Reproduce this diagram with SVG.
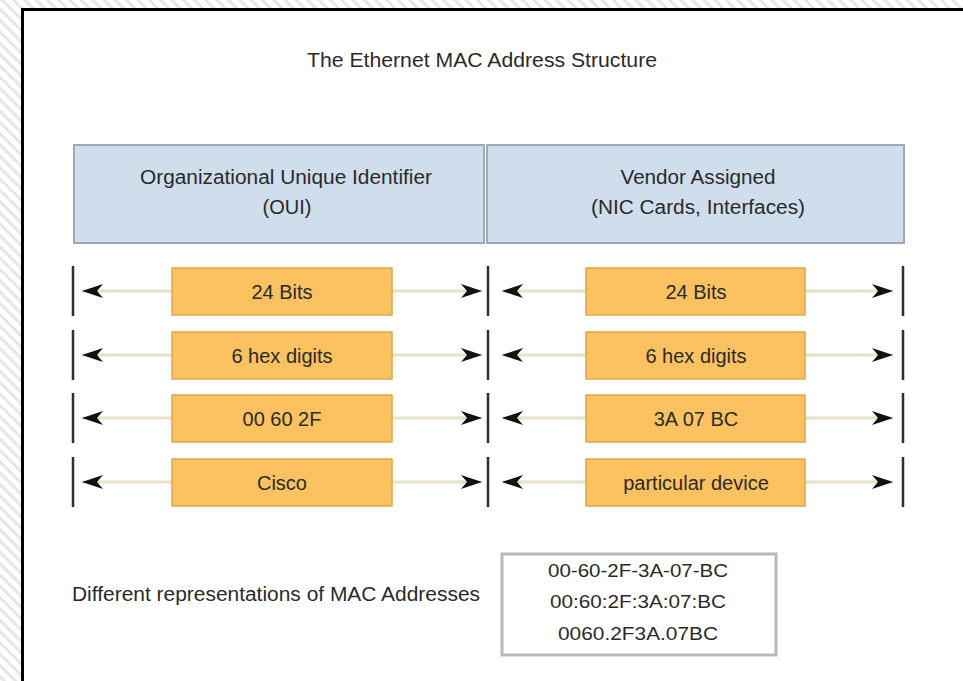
<svg xmlns="http://www.w3.org/2000/svg" width="963" height="681" viewBox="0 0 963 681">
  <style>
    text { font-family: "Liberation Sans", Arial, sans-serif; fill: #2a2a2a; }
    .t20 { font-size: 20px; }
    .t19 { font-size: 19px; }
    .mid { text-anchor: middle; }
    .head { fill: #d0ddec; stroke: #9ea9b6; stroke-width: 2; }
    .field { fill: #fbc25f; stroke: #dfa748; stroke-width: 1.5; }
    .bar { stroke: #2e2e2e; stroke-width: 2.5; }
    .span { stroke: #e7e0c3; stroke-width: 3; fill: none; marker-end: url(#tip); }
  </style>
  <defs>
    <pattern id="hatch" width="8" height="8" patternUnits="userSpaceOnUse" patternTransform="rotate(-45)">
      <rect x="0" y="0" width="3" height="8" fill="#e6e6e6"/>
    </pattern>
    <marker id="tip" viewBox="0 -8 22 16" refX="21" refY="0" markerWidth="22" markerHeight="16" markerUnits="userSpaceOnUse" orient="auto">
      <path d="M0,-7 L21,0 L0,7 L6,0 Z" fill="#111"/>
    </marker>
  </defs>

  <!-- page background and framed panel -->
  <rect x="0" y="0" width="963" height="681" fill="#ffffff"/>
  <rect x="0" y="0" width="963" height="681" fill="url(#hatch)"/>
  <rect x="22.5" y="9.5" width="960" height="690" fill="#ffffff" stroke="#000000" stroke-width="3"/>

  <g id="title">
    <text class="t20 mid" x="482" y="67" textLength="350" lengthAdjust="spacingAndGlyphs">The Ethernet MAC Address Structure</text>
  </g>

  <!-- header fields -->
  <g id="oui-header">
    <rect class="head" x="74" y="145" width="410" height="98"/>
    <text class="t20 mid" x="286" y="184" textLength="292" lengthAdjust="spacingAndGlyphs">Organizational Unique Identifier</text>
    <text class="t20 mid" x="287" y="214">(OUI)</text>
  </g>
  <g id="vendor-header">
    <rect class="head" x="487" y="145" width="417" height="98"/>
    <text class="t20 mid" x="698" y="184" textLength="155" lengthAdjust="spacingAndGlyphs">Vendor Assigned</text>
    <text class="t20 mid" x="698" y="214" textLength="214" lengthAdjust="spacingAndGlyphs">(NIC Cards, Interfaces)</text>
  </g>

  <!-- boundary bars -->
  <g id="bars">
    <line class="bar" x1="73" y1="266" x2="73" y2="316"/>
    <line class="bar" x1="488" y1="266" x2="488" y2="316"/>
    <line class="bar" x1="903" y1="266" x2="903" y2="316"/>
    <line class="bar" x1="73" y1="330" x2="73" y2="380"/>
    <line class="bar" x1="488" y1="330" x2="488" y2="380"/>
    <line class="bar" x1="903" y1="330" x2="903" y2="380"/>
    <line class="bar" x1="73" y1="393" x2="73" y2="443"/>
    <line class="bar" x1="488" y1="393" x2="488" y2="443"/>
    <line class="bar" x1="903" y1="393" x2="903" y2="443"/>
    <line class="bar" x1="73" y1="457" x2="73" y2="507"/>
    <line class="bar" x1="488" y1="457" x2="488" y2="507"/>
    <line class="bar" x1="903" y1="457" x2="903" y2="507"/>
  </g>

  <!-- span arrows -->
  <g id="connectors">
    <line class="span" x1="172" y1="291" x2="82" y2="291"/>
    <line class="span" x1="392" y1="291" x2="482" y2="291"/>
    <line class="span" x1="586" y1="291" x2="502" y2="291"/>
    <line class="span" x1="805" y1="291" x2="893" y2="291"/>

    <line class="span" x1="172" y1="355" x2="82" y2="355"/>
    <line class="span" x1="392" y1="355" x2="482" y2="355"/>
    <line class="span" x1="586" y1="355" x2="502" y2="355"/>
    <line class="span" x1="805" y1="355" x2="893" y2="355"/>

    <line class="span" x1="172" y1="418" x2="82" y2="418"/>
    <line class="span" x1="392" y1="418" x2="482" y2="418"/>
    <line class="span" x1="586" y1="418" x2="502" y2="418"/>
    <line class="span" x1="805" y1="418" x2="893" y2="418"/>

    <line class="span" x1="172" y1="482" x2="82" y2="482"/>
    <line class="span" x1="392" y1="482" x2="482" y2="482"/>
    <line class="span" x1="586" y1="482" x2="502" y2="482"/>
    <line class="span" x1="805" y1="482" x2="893" y2="482"/>
  </g>

  <!-- field boxes -->
  <g id="oui-bits">
    <rect class="field" x="172" y="268" width="220" height="47"/>
    <text class="t20 mid" x="282" y="299">24 Bits</text>
  </g>
  <g id="vendor-bits">
    <rect class="field" x="586" y="268" width="219" height="47"/>
    <text class="t20 mid" x="696" y="299">24 Bits</text>
  </g>
  <g id="oui-hex">
    <rect class="field" x="172" y="332" width="220" height="47"/>
    <text class="t20 mid" x="282" y="363">6 hex digits</text>
  </g>
  <g id="vendor-hex">
    <rect class="field" x="586" y="332" width="219" height="47"/>
    <text class="t20 mid" x="696" y="363">6 hex digits</text>
  </g>
  <g id="oui-value">
    <rect class="field" x="172" y="395" width="220" height="47"/>
    <text class="t20 mid" x="282" y="426">00 60 2F</text>
  </g>
  <g id="vendor-value">
    <rect class="field" x="586" y="395" width="219" height="47"/>
    <text class="t20 mid" x="696" y="426">3A 07 BC</text>
  </g>
  <g id="oui-owner">
    <rect class="field" x="172" y="459" width="220" height="47"/>
    <text class="t20 mid" x="282" y="490">Cisco</text>
  </g>
  <g id="vendor-owner">
    <rect class="field" x="586" y="459" width="219" height="47"/>
    <text class="t20 mid" x="696" y="490">particular device</text>
  </g>

  <!-- notation examples -->
  <g id="representations-label">
    <text class="t20" x="72" y="601" textLength="408" lengthAdjust="spacingAndGlyphs">Different representations of MAC Addresses</text>
  </g>
  <g id="representations">
    <rect x="502" y="554" width="274" height="101" fill="#ffffff" stroke="#b8b8b8" stroke-width="3"/>
    <text class="t19 mid" x="638" y="577" textLength="180" lengthAdjust="spacingAndGlyphs">00-60-2F-3A-07-BC</text>
    <text class="t19 mid" x="638" y="608" textLength="176" lengthAdjust="spacingAndGlyphs">00:60:2F:3A:07:BC</text>
    <text class="t19 mid" x="638" y="640" textLength="160" lengthAdjust="spacingAndGlyphs">0060.2F3A.07BC</text>
  </g>
</svg>
